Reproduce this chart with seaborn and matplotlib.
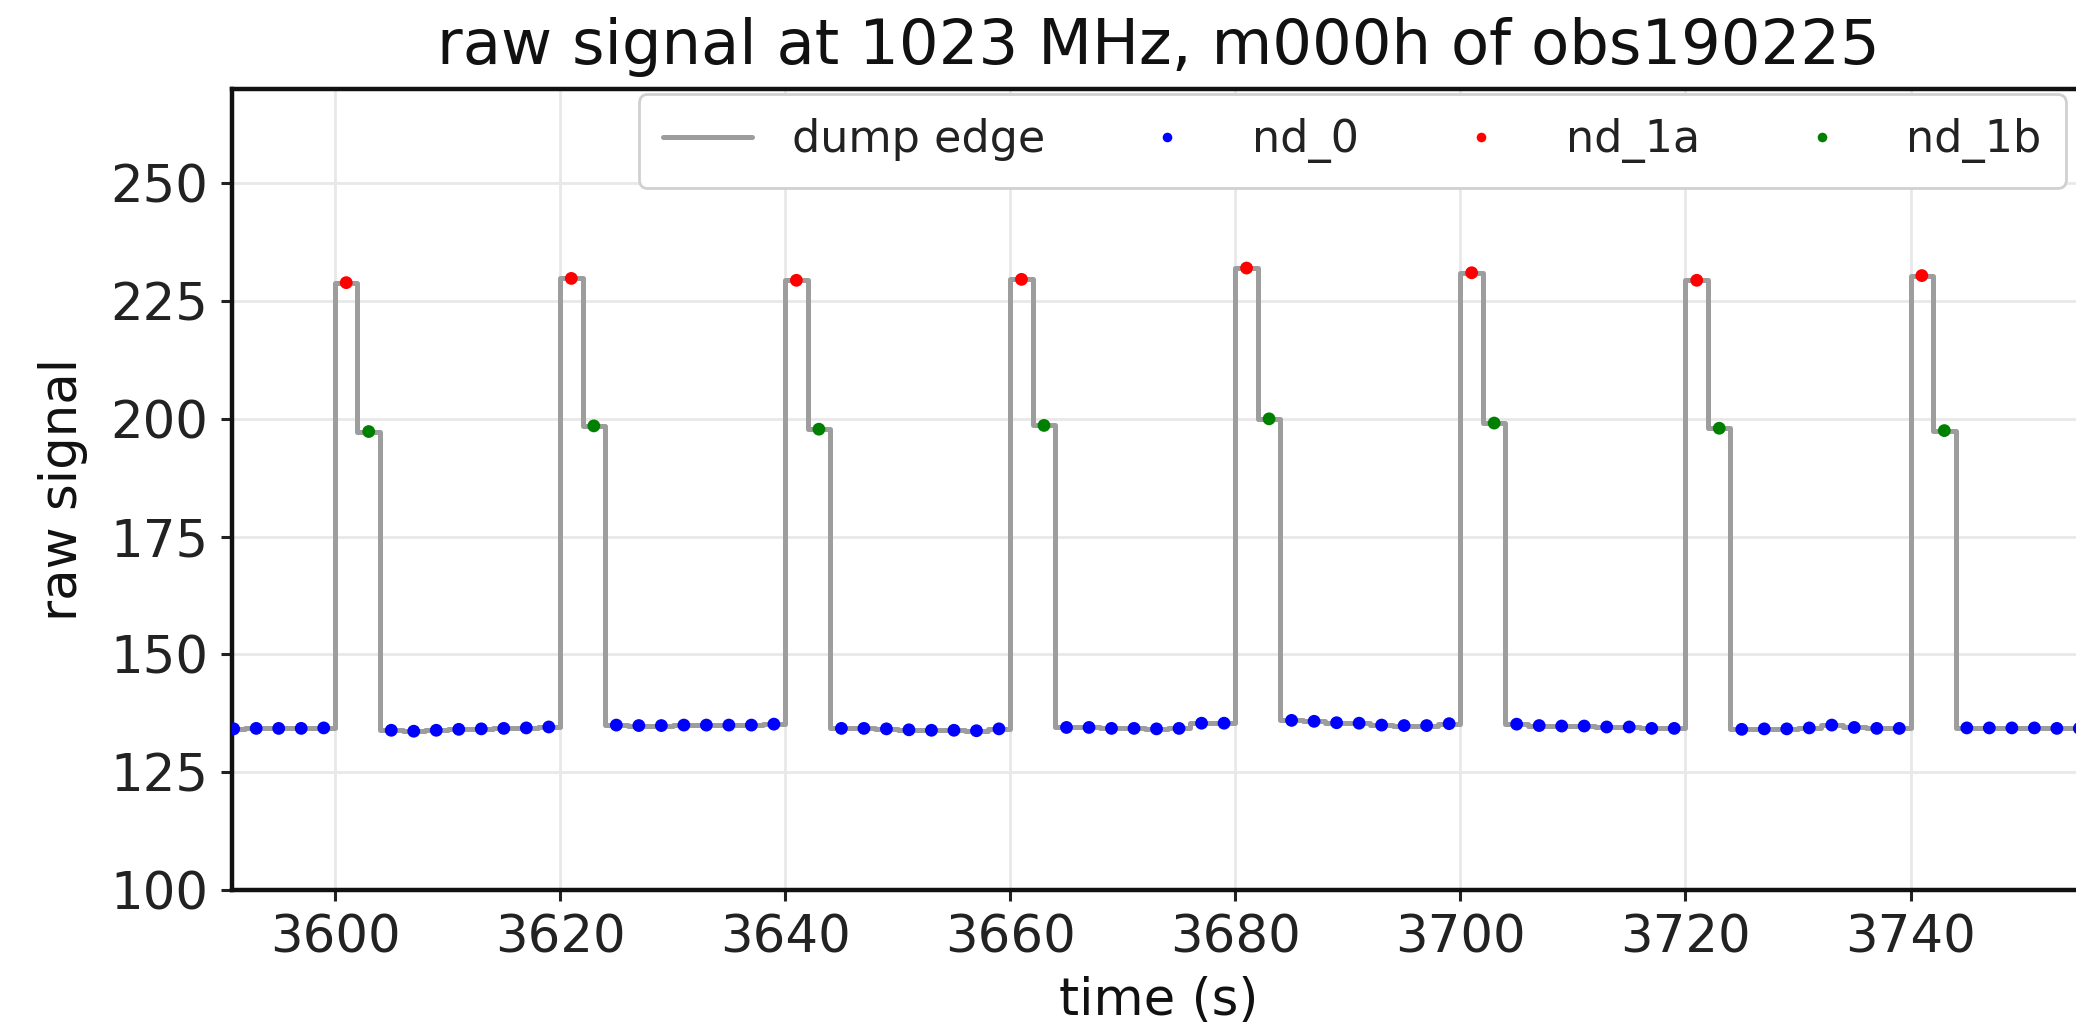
import numpy as np
import pandas as pd
import matplotlib
matplotlib.use("Agg")
import matplotlib.pyplot as plt
import seaborn as sns

# ---- data ----
t_start = 3591.0   # first dump timestamp (s)
t_step = 2.0       # dump period (s)

signal_pre = [134.2, 134.3, 134.3, 134.3, 134.4]
cycle_nd1a = [228.9, 229.8, 229.4, 229.6, 232.0, 231.0, 229.4, 230.4]
cycle_nd1b = [197.3, 198.5, 197.8, 198.6, 200.0, 199.1, 198.0, 197.5]
cycle_nd0 = [
    [133.9, 133.7, 133.9, 134.1, 134.2, 134.3, 134.4, 134.6],
    [135.0, 134.9, 134.9, 135.0, 135.0, 135.0, 135.0, 135.2],
    [134.3, 134.3, 134.2, 134.0, 133.9, 133.9, 133.8, 134.2],
    [134.5, 134.5, 134.3, 134.3, 134.2, 134.3, 135.4, 135.4],
    [136.0, 135.8, 135.5, 135.4, 135.0, 134.9, 134.9, 135.3],
    [135.2, 134.9, 134.8, 134.8, 134.6, 134.6, 134.3, 134.3],
    [134.1, 134.2, 134.2, 134.4, 135.0, 134.5, 134.3, 134.3],
    [134.4, 134.4, 134.4, 134.4, 134.3, 134.3, 134.3, 134.3],
]
x_ticks = [3600, 3620, 3640, 3660, 3680, 3700, 3720, 3740]
y_ticks = [100, 125, 150, 175, 200, 225, 250]
title = "raw signal at 1023 MHz, m000h of obs190225"

# assemble the sequence
values = list(signal_pre)
states = ["nd_0"] * len(signal_pre)
for a, b, zs in zip(cycle_nd1a, cycle_nd1b, cycle_nd0):
    values += [a, b] + zs
    states += ["nd_1a", "nd_1b"] + ["nd_0"] * len(zs)
times = t_start + t_step * np.arange(len(values))
df = pd.DataFrame({"time": times, "signal": values, "state": states})

# ---- plot ----
sns.set_theme(style="whitegrid")
plt.rcParams["font.family"] = ["DejaVu Sans"]

W, H = 2076, 1033
fig = plt.figure(figsize=(W / 100, H / 100), dpi=100)
left, right, top, bottom = 232, 2085, 89, 890
ax = fig.add_axes([left / W, 1 - bottom / H, (right - left) / W, (bottom - top) / H])

sns.lineplot(data=df, x="time", y="signal", ax=ax, color="#9d9d9d",
             linewidth=3.6, drawstyle="steps-mid", label="dump edge",
             estimator=None, sort=True)
palette = {"nd_0": "blue", "nd_1a": "red", "nd_1b": "green"}
sns.scatterplot(data=df, x="time", y="signal", hue="state",
                hue_order=["nd_0", "nd_1a", "nd_1b"], palette=palette,
                s=85, linewidth=0, ax=ax, zorder=3)

ax.set_xlim(3590.85, 3755.5)
ax.set_ylim(100, 270)
ax.set_xticks(x_ticks)
ax.set_yticks(y_ticks)
ax.tick_params(axis="both", labelsize=37, length=8, width=2.2, color="#222222",
               direction="out", bottom=True, left=True, pad=9,
               labelcolor="#222222")
for sp in ax.spines.values():
    sp.set_color("#111111")
    sp.set_linewidth(3.2)
ax.spines["right"].set_visible(False)
ax.grid(True, color="#e8e8e8", linewidth=2)
ax.set_facecolor("white")

ax.set_title(title, fontsize=45, pad=18, color="#111111")
ax.set_xlabel("time (s)", fontsize=37, labelpad=9, color="#111111")
ax.set_ylabel("raw signal", fontsize=37, labelpad=16, color="#111111")

handles, labels = ax.get_legend_handles_labels()
leg = ax.legend(handles, labels, loc="upper right",
                bbox_to_anchor=(2066 / W, 1 - 94 / H), bbox_transform=fig.transFigure,
                ncol=4, fontsize=32, frameon=True, borderaxespad=0,
                borderpad=0.55, columnspacing=1.75, handlelength=2.0,
                handletextpad=0.9, markerscale=0.75, fancybox=True, framealpha=1)
leg.get_frame().set_edgecolor("#d0d0d0")
leg.get_frame().set_linewidth(2)
for t in leg.get_texts():
    t.set_color("#222222")

fig.savefig("out.png", dpi=100)
